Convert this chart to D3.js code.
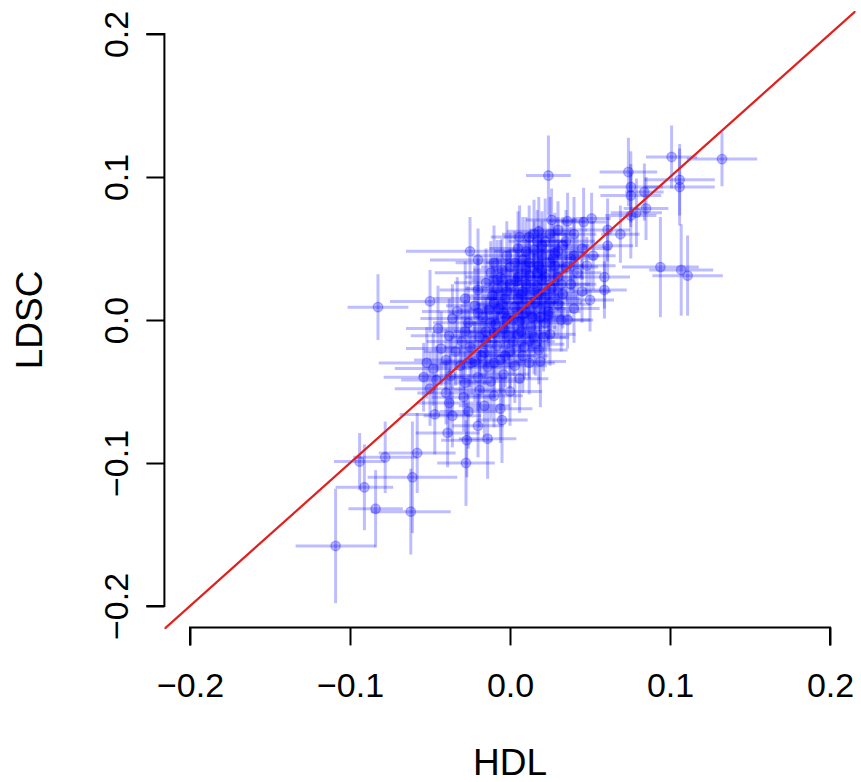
<!DOCTYPE html>
<html>
<head>
<meta charset="utf-8">
<script src="https://cdn.jsdelivr.net/npm/d3@7"></script>
<style>
  html, body { margin: 0; padding: 0; background: #fff; }
  svg { display: block; font-family: "Liberation Sans", Arial, Helvetica, sans-serif; }
</style>
</head>
<body>
<svg id="chart" width="861" height="782"></svg>
<script>
// ---- Data ----
const xTicks = [-0.2, -0.1, 0.0, 0.1, 0.2];
const yTicks = [-0.2, -0.1, 0.0, 0.1, 0.2];
const xLabel = "HDL";
const yLabel = "LDSC";

// HDL estimates
const hdl = [
  -0.109,-0.094,-0.078,-0.058,-0.091,-0.084,-0.061,-0.062,-0.0275,-0.0825,
  -0.050,-0.045,-0.052,-0.054,
  0.024,0.074,0.101,0.1325,0.106,0.106,0.0755,0.0755,0.0755,0.084,0.085,0.079,
  0.069,0.061,0.051,0.046,0.061,0.094,0.107,0.111,0.059,0.059,0.050,
  0.026,0.036,0.040,0.030,0.018,0.012,0.022,0.033,0.045,0.052,0.028,0.015,0.005,
  -0.002,0.008,0.038,0.048,0.042,0.035,0.025,0.018,0.010,0.000,-0.010,-0.020,-0.025,-0.012,
  0.030,0.020,0.012,0.004,-0.006,-0.015,0.038,0.026,
  0.045,0.033,0.022,0.015,0.007,-0.002,-0.011,-0.020,-0.028,
  0.040,0.030,0.019,0.011,0.003,-0.005,-0.013,-0.022,-0.033,
  0.032,0.022,0.014,0.006,-0.002,-0.009,-0.017,-0.026,-0.036,
  0.025,0.015,0.007,-0.001,-0.010,-0.019,-0.028,-0.038,
  0.018,0.009,0.000,-0.008,-0.016,-0.025,-0.034,-0.043,
  0.012,0.003,-0.006,-0.014,-0.022,-0.031,-0.040,-0.048,
  0.006,-0.004,-0.012,-0.020,-0.028,-0.037,-0.046,
  0.000,-0.010,-0.019,-0.029,-0.040,-0.050,
  -0.006,-0.016,-0.026,-0.038,-0.047,
  -0.005,-0.036,-0.039,-0.027,-0.014,-0.020,
  0.010,0.017,0.005,-0.004,0.013,0.024,0.028,0.020,-0.008,-0.015,0.002,-0.024,0.016,-0.030,0.008,
  0.036,0.024,0.021,0.019,0.016,
  0.005,0.012,0.020,0.027,0.015,0.008,0.000,-0.005,0.022,0.030,
  0.017,0.025,0.010,0.003,-0.008,-0.003,0.010,0.018,0.025,0.032,
  0.028,0.002,-0.007,-0.012,-0.004,0.005,0.012,-0.015,-0.020,-0.010,
  0.020,0.035,0.040,0.015,0.006,-0.018,-0.010,-0.003,0.008,0.019
];
// LDSC estimates
const ldsc = [
  -0.158,-0.099,-0.096,-0.093,-0.117,-0.132,-0.110,-0.134,-0.100,0.009,
  0.013,-0.006,-0.030,-0.040,
  0.101,0.1035,0.114,0.1125,0.098,0.093,0.093,0.087,0.073,0.0895,0.078,0.075,
  0.060,0.063,0.071,0.0685,0.052,0.037,0.035,0.031,0.030,0.021,0.014,
  0.070,0.069,0.060,0.063,0.062,0.058,0.055,0.052,0.050,0.045,0.047,0.049,0.050,
  0.045,0.042,0.043,0.038,0.033,0.037,0.040,0.038,0.035,0.037,0.040,0.042,0.048,0.033,
  0.030,0.028,0.031,0.027,0.030,0.026,0.025,0.022,
  0.020,0.018,0.016,0.021,0.018,0.020,0.017,0.021,0.015,
  0.008,0.011,0.008,0.012,0.009,0.011,0.007,0.010,0.006,
  0.000,-0.002,0.002,-0.001,0.001,-0.003,0.002,-0.002,0.001,
  -0.010,-0.012,-0.008,-0.011,-0.009,-0.012,-0.008,-0.011,
  -0.021,-0.019,-0.022,-0.018,-0.023,-0.019,-0.022,-0.020,
  -0.030,-0.032,-0.028,-0.033,-0.029,-0.032,-0.028,-0.034,
  -0.041,-0.038,-0.043,-0.040,-0.044,-0.039,-0.042,
  -0.050,-0.053,-0.049,-0.054,-0.051,-0.048,
  -0.062,-0.060,-0.064,-0.058,-0.066,
  -0.070,-0.067,-0.079,-0.084,-0.083,-0.074,
  0.025,0.033,0.015,0.005,-0.005,0.006,0.038,0.045,0.022,-0.015,-0.015,-0.030,0.012,-0.015,0.004,
  0.000,0.0035,-0.012,-0.029,-0.017,
  0.030,0.040,0.035,0.043,0.025,0.020,0.025,0.035,0.030,0.048,
  0.055,0.060,0.048,0.040,0.028,0.015,0.005,0.018,0.012,0.025,
  0.015,0.000,0.008,-0.002,-0.006,-0.010,-0.015,-0.008,0.005,0.012,
  0.052,0.055,0.045,0.060,0.058,-0.025,-0.030,-0.025,-0.025,0.002
];
// Half-widths of the horizontal error bars (HDL)
const hdlErr = [
  0.025,0.016,0.020,0.024,0.018,0.017,0.028,0.025,0.018,0.019,
  0.025,0.020,0.030,0.025,
  0.014,0.018,0.016,0.022,0.022,0.022,0.020,0.019,0.016,0.012,0.014,0.016,
  0.012,0.014,0.012,0.014,0.016,0.024,0.020,0.022,0.016,0.014,0.015,
  0.016,0.012,0.014,0.018,0.020,0.016,0.014,0.016,0.018,0.014,0.020,0.016,0.018,
  0.022,0.020,0.016,0.018,0.015,0.020,0.018,0.016,0.020,0.018,0.024,0.030,0.040,0.035,
  0.016,0.020,0.018,0.016,0.022,0.020,0.016,0.014,
  0.018,0.016,0.020,0.018,0.016,0.020,0.018,0.024,0.020,
  0.016,0.020,0.016,0.018,0.020,0.016,0.020,0.018,0.022,
  0.018,0.016,0.020,0.018,0.016,0.020,0.018,0.022,0.020,
  0.016,0.020,0.018,0.016,0.020,0.018,0.020,0.024,
  0.018,0.016,0.020,0.018,0.020,0.016,0.020,0.022,
  0.016,0.020,0.018,0.016,0.020,0.018,0.020,0.024,
  0.018,0.016,0.020,0.018,0.016,0.020,0.022,
  0.020,0.018,0.016,0.020,0.018,0.022,
  0.020,0.016,0.018,0.020,0.022,
  0.016,0.018,0.020,0.016,0.018,0.016,
  0.018,0.016,0.020,0.018,0.016,0.020,0.018,0.016,0.020,0.018,0.016,0.020,0.018,0.022,0.016,
  0.016,0.014,0.016,0.016,0.018,
  0.018,0.016,0.020,0.016,0.018,0.020,0.016,0.018,0.020,0.016,
  0.018,0.016,0.020,0.018,0.016,0.020,0.018,0.016,0.020,0.018,
  0.016,0.020,0.018,0.016,0.020,0.018,0.016,0.020,0.018,0.016,
  0.016,0.018,0.016,0.020,0.018,0.020,0.016,0.018,0.016,0.020
];
// Half-heights of the vertical error bars (LDSC)
const ldscErr = [
  0.040,0.020,0.025,0.028,0.030,0.027,0.039,0.030,0.030,0.023,
  0.022,0.030,0.025,0.024,
  0.028,0.024,0.022,0.019,0.025,0.027,0.025,0.022,0.030,0.020,0.022,0.024,
  0.020,0.022,0.018,0.024,0.020,0.035,0.032,0.028,0.022,0.020,0.022,
  0.022,0.020,0.026,0.020,0.024,0.022,0.030,0.020,0.022,0.024,0.028,0.020,0.026,
  0.024,0.030,0.022,0.020,0.026,0.024,0.022,0.028,0.022,0.024,0.026,0.022,0.024,0.022,
  0.024,0.022,0.028,0.022,0.026,0.024,0.020,0.026,
  0.022,0.024,0.020,0.026,0.022,0.028,0.024,0.022,0.026,
  0.024,0.022,0.026,0.022,0.024,0.026,0.022,0.028,0.024,
  0.022,0.026,0.024,0.022,0.028,0.024,0.022,0.026,0.024,
  0.022,0.026,0.024,0.022,0.028,0.024,0.022,0.026,
  0.024,0.022,0.026,0.024,0.022,0.028,0.024,0.026,
  0.022,0.026,0.024,0.022,0.028,0.024,0.022,0.026,
  0.024,0.022,0.026,0.024,0.022,0.028,0.024,
  0.024,0.022,0.026,0.024,0.022,0.026,
  0.024,0.022,0.026,0.024,0.028,
  0.030,0.022,0.024,0.026,0.028,0.022,
  0.022,0.024,0.026,0.022,0.024,0.022,0.026,0.024,0.022,0.026,0.024,0.022,0.024,0.026,0.022,
  0.020,0.022,0.024,0.032,0.022,
  0.024,0.022,0.026,0.024,0.022,0.028,0.024,0.022,0.026,0.024,
  0.022,0.026,0.024,0.022,0.028,0.024,0.022,0.026,0.024,0.022,
  0.026,0.024,0.022,0.028,0.024,0.022,0.026,0.024,0.022,0.026,
  0.024,0.022,0.026,0.024,0.022,0.026,0.024,0.022,0.026,0.024
];

// ---- Layout ----
const svg = d3.select("#chart");
const plotLeft = 164.4, plotRight = 855.6, plotTop = 11.1, plotBottom = 628.9;
const x = d3.scaleLinear().domain([-0.216, 0.216]).range([plotLeft, plotRight]);
const y = d3.scaleLinear().domain([-0.216, 0.216]).range([plotBottom, plotTop]);

const pts = hdl.map((h, i) => ({ h, l: ldsc[i], eh: hdlErr[i], el: ldscErr[i] }));

svg.append("clipPath").attr("id", "clip")
  .append("rect").attr("x", plotLeft).attr("y", plotTop)
  .attr("width", plotRight - plotLeft).attr("height", plotBottom - plotTop);

const g = svg.append("g").attr("clip-path", "url(#clip)");
const barColor = "rgba(0,0,255,0.26)";

g.selectAll("line.hbar").data(pts).enter().append("line")
  .attr("x1", d => x(d.h - d.eh)).attr("x2", d => x(d.h + d.eh))
  .attr("y1", d => y(d.l)).attr("y2", d => y(d.l))
  .attr("stroke", barColor).attr("stroke-width", 3);
g.selectAll("line.vbar").data(pts).enter().append("line")
  .attr("x1", d => x(d.h)).attr("x2", d => x(d.h))
  .attr("y1", d => y(d.l - d.el)).attr("y2", d => y(d.l + d.el))
  .attr("stroke", barColor).attr("stroke-width", 3);
g.selectAll("circle").data(pts).enter().append("circle")
  .attr("cx", d => x(d.h)).attr("cy", d => y(d.l)).attr("r", 4.8)
  .attr("fill", "rgba(0,0,255,0.25)")
  .attr("stroke", "rgba(0,0,255,0.25)").attr("stroke-width", 1.3);

// y = x reference line
g.append("line")
  .attr("x1", x(-0.216)).attr("y1", y(-0.216))
  .attr("x2", x(0.216)).attr("y2", y(0.216))
  .attr("stroke", "#e0201c").attr("stroke-width", 2.2);

// ---- Axes (R style) ----
const fmt = d3.format(".1f");
const axisY0 = plotBottom - 1.5;
const xAxis = d3.axisBottom(x).tickValues(xTicks).tickSize(18)
  .tickFormat(d => fmt(d).replace("-", "\u2212"));
const xg = svg.append("g").attr("transform", `translate(0,${axisY0})`).call(xAxis);
xg.select(".domain").attr("d", `M${x(-0.2)},18V0H${x(0.2)}V18`);
xg.selectAll("path, line").attr("stroke", "#000").attr("stroke-width", 2);
xg.selectAll("text").attr("font-size", 34).attr("fill", "#000")
  .attr("font-family", "Liberation Sans, Arial, sans-serif")
  .attr("dy", 0).attr("y", 697 - axisY0);

const yAxis = d3.axisLeft(y).tickValues(yTicks).tickSize(18)
  .tickFormat(d => fmt(d).replace("-", "\u2212"));
const yg = svg.append("g").attr("transform", `translate(${plotLeft},0)`).call(yAxis);
yg.select(".domain").attr("d", `M-18,${y(0.2)}H0V${y(-0.2)}H-18`);
yg.selectAll("path, line").attr("stroke", "#000").attr("stroke-width", 2);
yg.selectAll("text").attr("font-size", 34).attr("fill", "#000")
  .attr("font-family", "Liberation Sans, Arial, sans-serif")
  .attr("text-anchor", "middle")
  .attr("dy", 0)
  .attr("x", 0)
  .attr("transform", `translate(-36,0) rotate(-90)`);

// Axis titles
svg.append("text").attr("x", x(0)).attr("y", 775)
  .attr("text-anchor", "middle").attr("font-size", 37).text(xLabel);
svg.append("text").attr("transform", `translate(42,${y(0)}) rotate(-90)`)
  .attr("text-anchor", "middle").attr("font-size", 37).text(yLabel);
</script>
</body>
</html>
